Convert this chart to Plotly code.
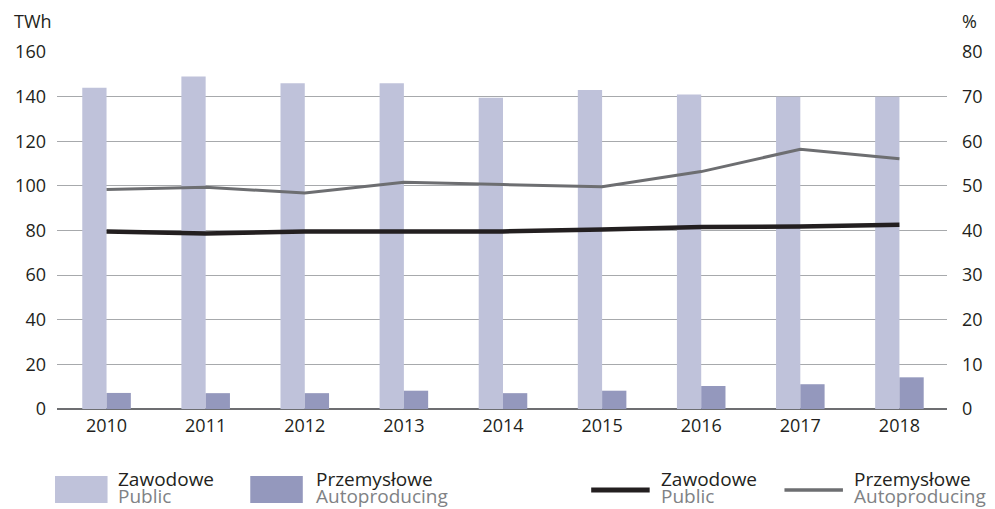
import plotly.graph_objects as go

years = ["2010", "2011", "2012", "2013", "2014", "2015", "2016", "2017", "2018"]
public_twh = [144, 149, 146, 146, 139.5, 143, 141, 140, 140]
auto_twh = [7.2, 7.1, 7.1, 8.2, 7.1, 8.2, 10.3, 11.1, 14.2]
public_pct = [39.8, 39.3, 39.8, 39.8, 39.8, 40.2, 40.8, 40.9, 41.3]
auto_pct = [49.2, 49.7, 48.4, 50.8, 50.3, 49.8, 53.2, 58.2, 56.1]

left_ticks = [0, 20, 40, 60, 80, 100, 120, 140, 160]
right_ticks = [0, 10, 20, 30, 40, 50, 60, 70, 80]

C_PUB_BAR = "#BFC2DA"
C_AUTO_BAR = "#9498BD"
C_PUB_LINE = "#231F20"
C_AUTO_LINE = "#6D6E71"
FONT = "Open Sans"

W, H = 995, 509
L, R, T, B = 57, 40, 52, 100
PW, PH = W - L - R, H - T - B

def px(x):
    return (x - L) / PW

def py(y):
    return (H - B - y) / PH

fig = go.Figure()
fig.add_trace(go.Bar(x=years, y=public_twh, marker=dict(color=C_PUB_BAR, line=dict(width=0)),
                     name="Zawodowe", showlegend=False))
fig.add_trace(go.Bar(x=years, y=auto_twh, marker=dict(color=C_AUTO_BAR, line=dict(width=0)),
                     name="Przemysłowe", showlegend=False))
fig.add_trace(go.Scatter(x=years, y=auto_pct, yaxis="y2", mode="lines",
                         line=dict(color=C_AUTO_LINE, width=3), showlegend=False))
fig.add_trace(go.Scatter(x=years, y=public_pct, yaxis="y2", mode="lines",
                         line=dict(color=C_PUB_LINE, width=4.5), showlegend=False))

fig.update_layout(
    width=W, height=H,
    margin=dict(l=L, r=R, t=T, b=B),
    paper_bgcolor="white", plot_bgcolor="white",
    barmode="group", bargap=0.51, bargroupgap=0,
    font=dict(family=FONT, size=18, color="#231F20"),
    xaxis=dict(type="category", range=[-0.5, 8.48], showgrid=False, showline=False,
               ticks="", tickfont=dict(size=18), ticklabelstandoff=4),
    yaxis=dict(range=[0, 160], tickvals=left_ticks, showgrid=True, gridcolor="#A7A9AC",
               gridwidth=1, zeroline=True, zerolinecolor="#6D6E71", zerolinewidth=1.5,
               ticks="", ticklabelstandoff=10, tickfont=dict(size=18)),
    yaxis2=dict(range=[0, 80], tickvals=right_ticks, overlaying="y", side="right",
                showgrid=False, zeroline=False, ticks="", ticklabelstandoff=14,
                tickfont=dict(size=18)),
    showlegend=False,
)

annots = [
    dict(text="TWh", x=px(12), y=py(21), xanchor="left", yanchor="middle", font=dict(size=18)),
    dict(text="%", x=px(987), y=py(21), xanchor="right", yanchor="middle", font=dict(size=18)),
]
shapes = []

legend_items = [
    ("rect", C_PUB_BAR, 55, 108, 117, "Zawodowe", "Public"),
    ("rect", C_AUTO_BAR, 252, 305, 316, "Przemysłowe", "Autoproducing"),
    ("line", C_PUB_LINE, 596, 655, 664, "Zawodowe", "Public"),
    ("line", C_AUTO_LINE, 791, 850, 859, "Przemysłowe", "Autoproducing"),
]
for kind, col, x0, x1, tx, t1, t2 in legend_items:
    if kind == "rect":
        shapes.append(dict(type="rect", xref="paper", yref="paper", x0=px(x0), x1=px(x1),
                           y0=py(503), y1=py(476), fillcolor=col, line=dict(width=0)))
    else:
        shapes.append(dict(type="line", xref="paper", yref="paper", x0=px(x0), x1=px(x1),
                           y0=py(490), y1=py(490),
                           line=dict(color=col, width=5 if col == C_PUB_LINE else 3.5)))
    annots.append(dict(text=t1, x=px(tx), y=py(479), xanchor="left", yanchor="middle",
                       font=dict(size=19, color="#231F20")))
    annots.append(dict(text=t2, x=px(tx), y=py(496), xanchor="left", yanchor="middle",
                       font=dict(size=19, color="#808285")))

for a in annots:
    a.update(xref="paper", yref="paper", showarrow=False)
fig.update_layout(annotations=annots, shapes=shapes)

fig.write_html("out.html", config={"displayModeBar": False},
               post_script="document.body.style.margin='0';document.body.style.overflow='hidden';")
